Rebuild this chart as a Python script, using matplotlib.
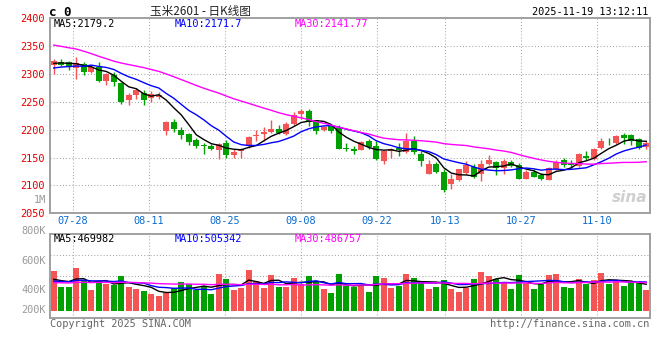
import matplotlib
matplotlib.use('Agg')
import matplotlib.pyplot as plt
import numpy as np
import pandas as pd

# trading days on the chart (07-23 .. 11-19)
dates = ['07-23', '07-24', '07-25', '07-28', '07-29', '07-30', '07-31',
         '08-01', '08-04', '08-05', '08-06', '08-07', '08-08', '08-11', '08-12',
         '08-13', '08-14', '08-15', '08-18', '08-19', '08-20', '08-21', '08-22',
         '08-25', '08-26', '08-27', '08-28', '08-29',
         '09-01', '09-02', '09-03', '09-04', '09-05', '09-08', '09-09', '09-10',
         '09-11', '09-12', '09-15', '09-16', '09-17', '09-18', '09-19', '09-22',
         '09-23', '09-24', '09-25', '09-26', '09-29', '09-30',
         '10-09', '10-10', '10-13', '10-14', '10-15', '10-16', '10-17', '10-20',
         '10-21', '10-22', '10-23', '10-24', '10-27', '10-28', '10-29', '10-30',
         '10-31',
         '11-03', '11-04', '11-05', '11-06', '11-07', '11-10', '11-11', '11-12',
         '11-13', '11-14', '11-17', '11-18', '11-19']
label_dates = ['07-28', '08-11', '08-25', '09-08', '09-22', '10-13', '10-27', '11-10']

open_px = [2316, 2321, 2321, 2311, 2318, 2303, 2313, 2288, 2299, 2284,
           2253, 2263, 2266, 2257, 2259, 2197, 2213, 2199, 2192, 2181,
           2172, 2171, 2164, 2176, 2155, 2162, 2170, 2189, 2193, 2196,
           2201, 2192, 2211, 2228, 2233, 2217, 2199, 2206, 2203, 2168,
           2166, 2164, 2179, 2170, 2144, 2162, 2167, 2160, 2179, 2156,
           2120, 2138, 2124, 2102, 2110, 2123, 2133, 2120, 2138, 2142,
           2131, 2142, 2137, 2112, 2125, 2118, 2110, 2130, 2146, 2139,
           2135, 2152, 2148, 2167, 2180, 2177, 2190, 2190, 2183, 2169]
high_px = [2327, 2327, 2324, 2331, 2321, 2317, 2322, 2302, 2303, 2286,
           2266, 2275, 2271, 2269, 2267, 2215, 2220, 2204, 2195, 2185,
           2177, 2175, 2177, 2182, 2165, 2168, 2189, 2199, 2205, 2217,
           2208, 2214, 2231, 2237, 2237, 2218, 2207, 2208, 2208, 2176,
           2171, 2180, 2183, 2180, 2164, 2168, 2177, 2195, 2188, 2162,
           2146, 2142, 2130, 2120, 2130, 2143, 2139, 2145, 2154, 2143,
           2148, 2145, 2140, 2127, 2129, 2122, 2133, 2145, 2149, 2145,
           2158, 2161, 2167, 2186, 2186, 2191, 2194, 2192, 2186, 2179]
low_px = [2300, 2314, 2308, 2291, 2299, 2301, 2286, 2281, 2279, 2246,
          2245, 2255, 2245, 2250, 2255, 2190, 2196, 2184, 2172, 2167,
          2157, 2163, 2148, 2150, 2150, 2150, 2168, 2179, 2180, 2194,
          2192, 2190, 2209, 2220, 2207, 2192, 2197, 2195, 2165, 2162,
          2157, 2163, 2165, 2145, 2138, 2150, 2152, 2158, 2157, 2135,
          2120, 2123, 2088, 2093, 2108, 2121, 2114, 2108, 2136, 2118,
          2121, 2133, 2111, 2111, 2115, 2109, 2109, 2127, 2133, 2132,
          2133, 2145, 2146, 2165, 2173, 2174, 2175, 2173, 2166, 2166]
close_px = [2323, 2317, 2313, 2320, 2303, 2312, 2288, 2300, 2286, 2249,
            2262, 2271, 2254, 2265, 2262, 2214, 2202, 2190, 2178, 2171,
            2171, 2165, 2175, 2154, 2160, 2166, 2187, 2191, 2196, 2201,
            2194, 2211, 2226, 2233, 2213, 2198, 2205, 2198, 2166, 2166,
            2162, 2178, 2169, 2147, 2161, 2165, 2164, 2180, 2160, 2144,
            2139, 2124, 2092, 2112, 2129, 2137, 2115, 2139, 2145, 2132,
            2143, 2135, 2112, 2125, 2116, 2112, 2131, 2142, 2136, 2137,
            2157, 2149, 2165, 2180, 2179, 2188, 2185, 2180, 2167, 2176]
# closes before the window, estimated from where the MA lines start
close_hist = [2385, 2390, 2384, 2425, 2440, 2432, 2428, 2420, 2350, 2345,
              2352, 2338, 2365, 2362, 2355, 2350, 2345, 2335, 2328, 2320,
              2300, 2305, 2310, 2308, 2290, 2312, 2318, 2322, 2320]

# volume in thousands
volume_k = [706, 421, 421, 759, 546, 374, 528, 474, 451, 617,
            421, 386, 356, 297, 267, 314, 403, 510, 474, 368,
            439, 297, 658, 563, 374, 403, 724, 528, 403, 635,
            421, 421, 581, 474, 617, 510, 386, 314, 652, 439,
            421, 439, 332, 617, 581, 403, 439, 652, 581, 510,
            386, 421, 546, 386, 332, 403, 563, 688, 617, 563,
            510, 386, 635, 492, 386, 474, 635, 652, 421, 403,
            570, 480, 550, 670, 480, 540, 440, 510, 500, 360]
volume_hist_k = [470, 520, 455, 490, 510, 445, 480, 530, 465, 500,
                 460, 495, 475, 515, 450, 490, 505, 470, 480, 460,
                 510, 470, 520, 495, 490, 540, 505, 530, 514]

ma_periods = [5, 10, 30]
ma_colors = ['black', '#0000ff', '#ff00ff']
price_ma_text = ['MA5:2179.2', 'MA10:2171.7', 'MA30:2141.77']
vol_ma_text = ['MA5:469982', 'MA10:505342', 'MA30:486757']
price_ticks = [2050, 2100, 2150, 2200, 2250, 2300, 2350, 2400]
vol_labels = ['800K', '600K', '400K', '200K']

RED = '#f45454'
GREEN = '#00a000'
GRID = '#a8a8a8'
BORDER = '#a0a0a0'
MONO = 'DejaVu Sans Mono'

W, H = 660, 360


def fx(px):
    return px / W


def fy(py):
    return 1 - py / H


N = len(dates)
x = np.arange(N)
o = np.array(open_px, float)
c = np.array(close_px, float)
hi = np.array(high_px, float)
lo = np.array(low_px, float)
vol = np.array(volume_k, float) * 1000
colors = np.where(c >= o, RED, GREEN)

closes_all = pd.Series(close_hist + close_px, dtype=float)
vols_all = pd.Series(volume_hist_k + volume_k, dtype=float) * 1000

# Sina spreads the date grid over N-1 steps
grid_x = [dates.index(d) * N / (N - 1) - 0.5 for d in label_dates]

fig = plt.figure(figsize=(6.6, 3.6), dpi=100)
fig.patch.set_facecolor('white')
axp = fig.add_axes([fx(50), fy(213.3), fx(600), 195 / H])
axv = fig.add_axes([fx(50), fy(318), fx(600), 84 / H])

# price panel
axp.vlines(x, lo, hi, colors=colors, lw=1)
body = np.maximum(np.abs(c - o), 1.2)
axp.bar(x, body, bottom=np.minimum(o, c), width=0.76, color=colors, lw=0, zorder=3)
for n, col in zip(ma_periods, ma_colors):
    ma = closes_all.rolling(n).mean().iloc[len(close_hist):].values
    axp.plot(x, ma, color=col, lw=1, zorder=4)

axp.set_xlim(-0.5, N - 0.5)
axp.set_ylim(2050, 2400)
axp.set_yticks(price_ticks)
axp.set_yticklabels([str(t) for t in price_ticks], color='#e00000',
                    fontsize=7.4, family=MONO)
axp.tick_params(axis='y', length=0, pad=3.5)
axp.set_xticks([])
for t in price_ticks[1:-1]:
    axp.axhline(t, color=GRID, lw=0.75, ls=(0, (1, 2)), zorder=1)
for g in grid_x:
    axp.axvline(g, color=GRID, lw=0.75, ls=(0, (1, 2)), zorder=1)
for gx_, d in zip(grid_x, label_dates):
    axp.text(gx_, -0.04, d, transform=axp.get_xaxis_transform(), ha='center',
             va='center', fontsize=7.4, family=MONO, color='#0a6ccf')
axp.text(0.995, 0.045, 'sina', transform=axp.transAxes, ha='right', va='bottom',
         fontsize=11, style='italic', weight='bold', color='#cfcfcf', zorder=0)

# volume panel
vlo, vhi = -130e3, 1365e3
axv.bar(x, vol, width=0.76, color=colors, lw=0, zorder=3)
for n, col in zip(ma_periods, ma_colors):
    ma = vols_all.rolling(n).mean().iloc[len(volume_hist_k):].values
    axv.plot(x, ma, color=col, lw=1, zorder=4)
axv.set_xlim(-0.5, N - 0.5)
axv.set_ylim(vlo, vhi)
axv.set_xticks([])
axv.set_yticks([])
for f in (0.25, 0.5, 0.75):
    axv.axhline(vlo + f * (vhi - vlo), color=GRID, lw=0.75, ls=(0, (1, 2)), zorder=1)
for g in grid_x:
    axv.axvline(g, color=GRID, lw=0.75, ls=(0, (1, 2)), zorder=1)

for ax in (axp, axv):
    for s in ax.spines.values():
        s.set_color(BORDER)
        s.set_linewidth(1.4)

# volume scale labels sit where Sina puts them
for lab, py in zip(vol_labels, [231, 261, 290, 310]):
    fig.text(fx(46), fy(py), lab, ha='right', va='center', fontsize=7.4,
             family=MONO, color='#9a9a9a')
fig.text(fx(46), fy(200), '1M', ha='right', va='center', fontsize=7.4,
         family=MONO, color='#9a9a9a')

# headers
fig.text(fx(49), fy(12), 'c 0', ha='left', va='center', fontsize=9,
         family=MONO, weight='bold')
fig.text(fx(200), fy(11), '玉米2601 - 日K线图', ha='center', va='center',
         fontsize=8.4, family=['Noto Sans CJK SC', 'DejaVu Sans'], color='#222222')
fig.text(fx(648), fy(12), '2025-11-19 13:12:11', ha='right', va='center',
         fontsize=7.4, family=MONO)
for txt, col, px in zip(price_ma_text, ma_colors, [54, 175, 295]):
    fig.text(fx(px), fy(24), txt, ha='left', va='center', fontsize=7.4,
             family=MONO, color=col)
for txt, col, px in zip(vol_ma_text, ma_colors, [54, 175, 295]):
    fig.text(fx(px), fy(238.5), txt, ha='left', va='center', fontsize=7.4,
             family=MONO, color=col)

fig.text(fx(50), fy(324), 'Copyright 2025 SINA.COM', ha='left', va='center',
         fontsize=7.4, family=MONO, color='#666666')
fig.text(fx(649), fy(324), 'http://finance.sina.com.cn', ha='right', va='center',
         fontsize=7.4, family=MONO, color='#666666')

fig.savefig('out.png', dpi=100, facecolor='white')
